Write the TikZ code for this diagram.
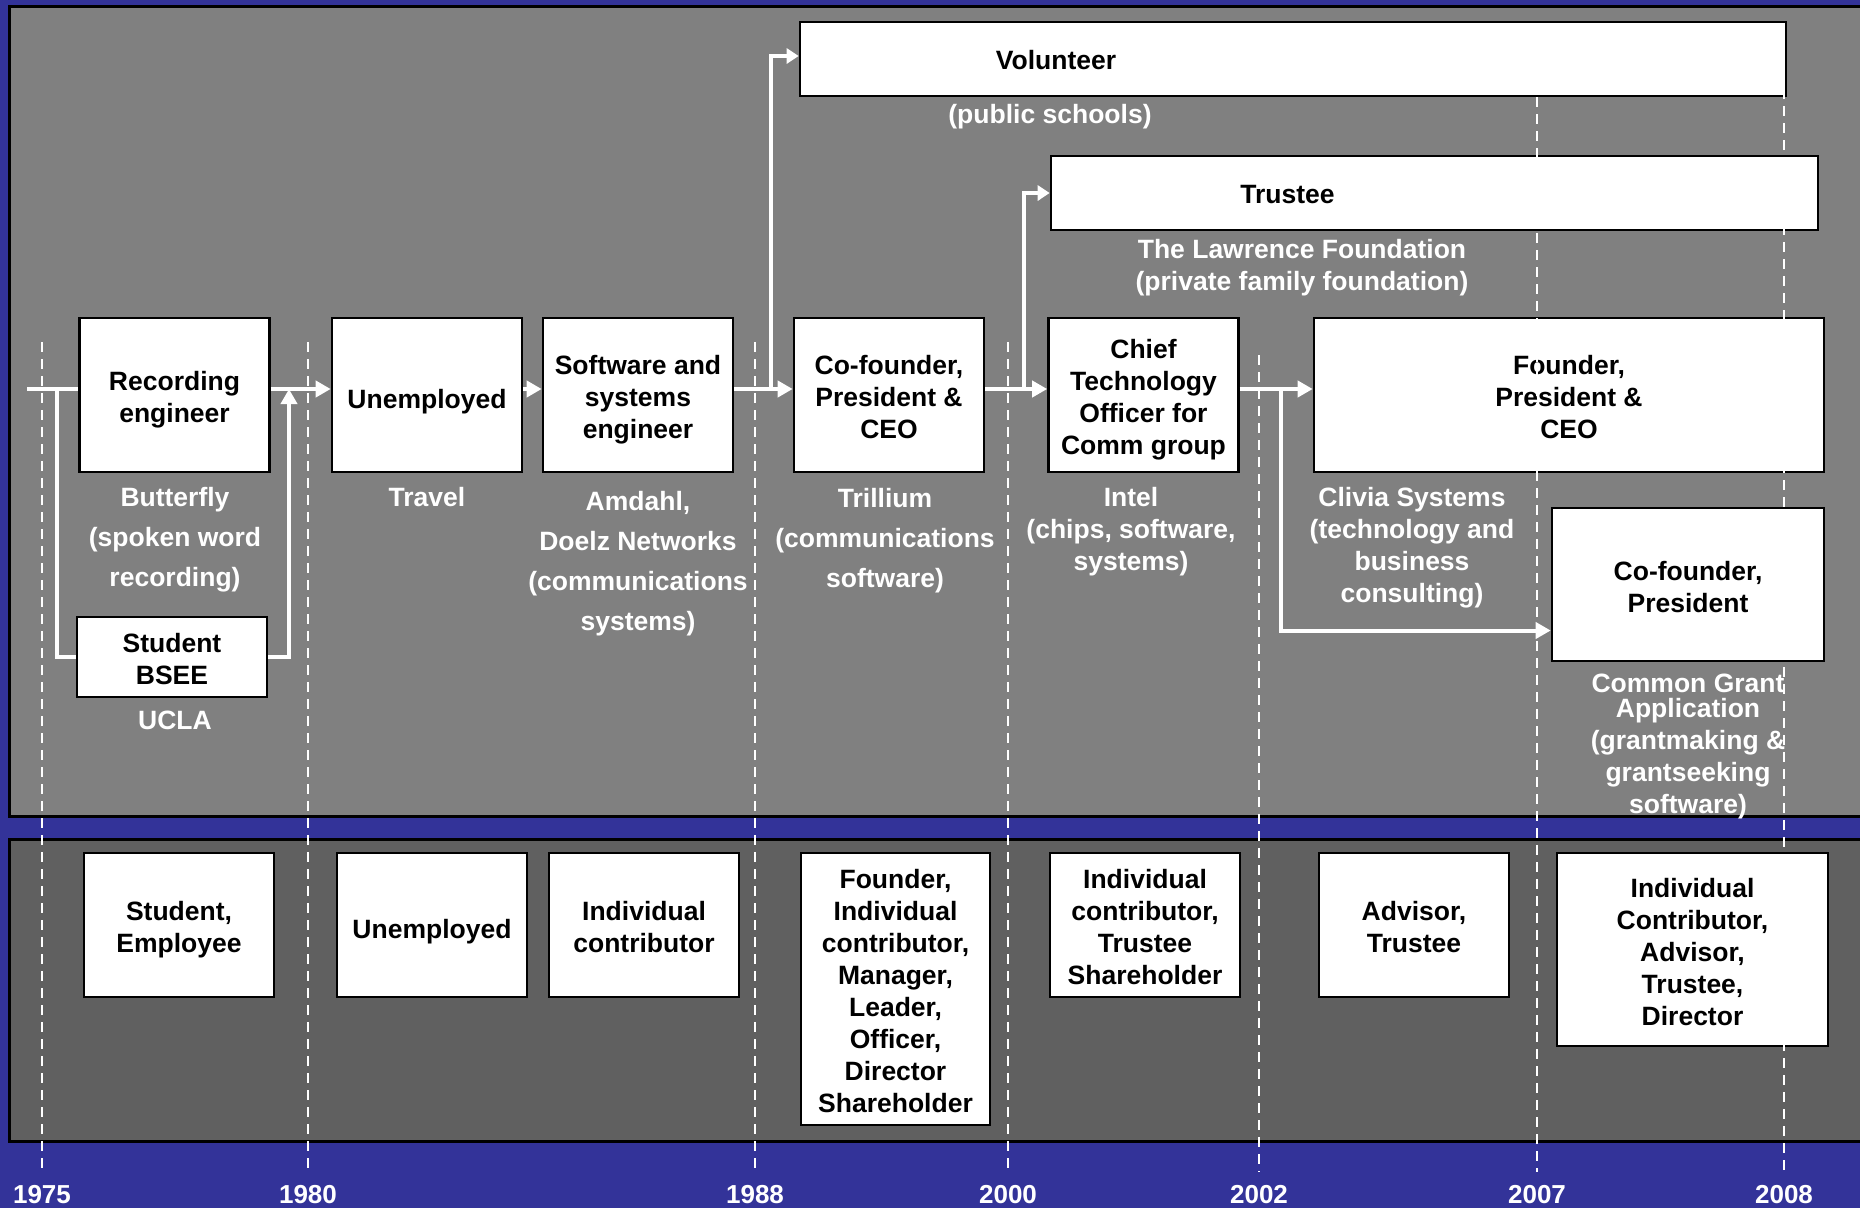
\documentclass[tikz,border=0pt]{standalone}
\usepackage{fontspec}
\setmainfont{Liberation Sans}
\usetikzlibrary{arrows.meta,calc}

\definecolor{slideblue}{RGB}{51,51,153}
\definecolor{panelgray}{RGB}{128,128,128}
\definecolor{lowgray}{RGB}{96,96,96}

\begin{document}
\begin{tikzpicture}[x=1pt, y=-1pt,
    boxfont/.style={font=\bfseries\fontsize{26.5}{32}\selectfont},
    box/.style={draw=black, line width=2.6pt, fill=white, inner sep=0pt},
    inbox/.style={label={[boxfont, align=center, yshift=-7pt]center:{#1\strut}}},
    job/.style={box, minimum width=190pt, minimum height=154pt},
    role/.style={box, minimum width=190pt, minimum height=144pt},
    place/.style={text=white, align=center, inner sep=0pt, boxfont},
    wide place/.style={place, font=\bfseries\fontsize{26.5}{40}\selectfont},
    trunk/.style={draw=white, line width=4pt},
    link/.style={trunk, -{Triangle[length=15pt, width=16pt]}},
    small link/.style={trunk, -{Triangle[length=12pt, width=15pt]}},
    yearline/.style={draw=white, line width=2pt, dash pattern=on 10pt off 7pt},
    year/.style={text=white, inner sep=0pt, font=\bfseries\fontsize{26}{30}\selectfont}]
    % Parameters
    \def\rowY{395}
    \def\flowY{389}
    \def\lift{6pt}
    \def\roleY{925}

    \useasboundingbox (0,0) rectangle (1860,1208);

    % Background and panels
    \fill[slideblue] (0,0) rectangle (1860,1208);
    \draw[line width=3pt, fill=panelgray] (9.5,6.5) rectangle (1863,816.5);
    \draw[line width=3pt, fill=lowgray] (9.5,839.5) rectangle (1863,1141.5);

    % Career boxes
    \node[job, inbox={Recording\\engineer}] (rec) at (174.5,\rowY) {};
    \node[job, inbox={Unemployed}] (idle) at (427,\rowY) {};
    \node[job, inbox={Software and\\systems\\engineer}] (swe) at (638,\rowY) {};
    \node[job, inbox={Co-founder,\\President \&\\CEO}] (trill) at (889,\rowY) {};
    \node[job, inbox={Chief\\Technology\\Officer for\\Comm group}] (cto) at (1143.5,\rowY) {};
    \node[job, minimum width=510pt, inbox={Founder,\\President \&\\CEO}] (clivia) at (1569,\rowY) {};
    \node[job, minimum width=272pt, minimum height=153pt, inbox={Co-founder,\\President}] (cga) at (1688,584.5) {};
    \node[box, minimum width=190pt, minimum height=80pt, inbox={Student\\BSEE}] (bsee) at (172,657) {};
    \node[box, minimum width=986pt, minimum height=74pt,
        label={[boxfont, xshift=-237pt, yshift=-1pt]center:Volunteer}] (vol) at (1293,59) {};
    \node[box, minimum width=767pt, minimum height=74pt,
        label={[boxfont, xshift=-147pt, yshift=-2pt]center:Trustee}] (trustee) at (1434.5,193) {};

    % Employers
    \node[wide place] (butterfly) at (175,539.5) {Butterfly\\(spoken word\\recording)};
    \node[place] (ucla) at (175,720) {UCLA};
    \node[place] (travel) at (427,497) {Travel};
    \node[wide place] (amdahl) at (638,564) {Amdahl,\\Doelz Networks\\(communications\\systems)};
    \node[wide place] (trillium) at (885,540.5) {Trillium\\(communications\\software)};
    \node[place] (intel) at (1131,532) {Intel\\(chips, software,\\systems)};
    \node[place] (cliviasys) at (1412,548) {Clivia Systems\\(technology and\\business\\consulting)};
    \node[place] (schools) at (1050,117) {(public schools)};
    \node[place] (lawrence) at (1302,268) {The Lawrence Foundation\\(private family foundation)};
    \node[place] (cgapp) at (1688,746) {Common Grant\\[-7pt]Application\\(grantmaking \&\\grantseeking\\software)};

    % Roles
    \foreach \x/\n/\txt in {179/1/{Student,\\Employee}, 432/2/{Unemployed}, 644/3/{Individual\\contributor},
        1145/5/{Individual\\contributor,\\Trustee\\Shareholder}, 1414/6/{Advisor,\\Trustee}} {
        \node[role, inbox=\txt] (role\n) at (\x,\roleY) {};
    }
    \node[role, minimum width=189pt, minimum height=272pt,
        inbox={Founder,\\Individual\\contributor,\\Manager,\\Leader,\\Officer,\\Director\\Shareholder}] (role4) at (895.5,989) {};
    \node[role, minimum width=271pt, minimum height=193pt,
        inbox={Individual\\Contributor,\\Advisor,\\Trustee,\\Director}] (role7) at (1692.5,949.5) {};

    % Connections
    \coordinate (start) at (27,\flowY);
    \coordinate (split) at (57,\flowY);
    \coordinate (merge) at (289,\flowY);
    \coordinate (up1) at (771,\flowY);
    \coordinate (up2) at (1024,\flowY);
    \coordinate (down1) at (1281,\flowY);

    \draw[trunk] (start) -- ([yshift=\lift]rec.west);
    \draw[trunk] (split) |- (bsee.west);
    \draw[link] ([yshift=\lift]rec.east) -- ([yshift=\lift]idle.west);
    \draw[link] (bsee.east) -| (merge);
    \draw[link] ([yshift=\lift]idle.east) -- ([yshift=\lift]swe.west);
    \draw[link] ([yshift=\lift]swe.east) -- ([yshift=\lift]trill.west);
    \draw[small link] (up1) |- ([yshift=3pt]vol.west);
    \draw[link] ([yshift=\lift]trill.east) -- ([yshift=\lift]cto.west);
    \draw[small link] (up2) |- (trustee.west);
    \draw[link] ([yshift=\lift]cto.east) -- ([yshift=\lift]clivia.west);
    \draw[link] (down1) |- ($(cga.west)+(0,46)$);

    % Years
    \foreach \x/\yr/\top in {42/1975/342, 308/1980/342, 755/1988/342, 1008/2000/342,
        1259/2002/355, 1537/2007/97, 1784/2008/55} {
        \node[year] (yr\yr) at (\x,1195) {\yr};
        \coordinate (top\yr) at (\x,\top);
        \draw[yearline] (top\yr) -- ([yshift=14pt]yr\yr.north);
    }
\end{tikzpicture}
\end{document}
